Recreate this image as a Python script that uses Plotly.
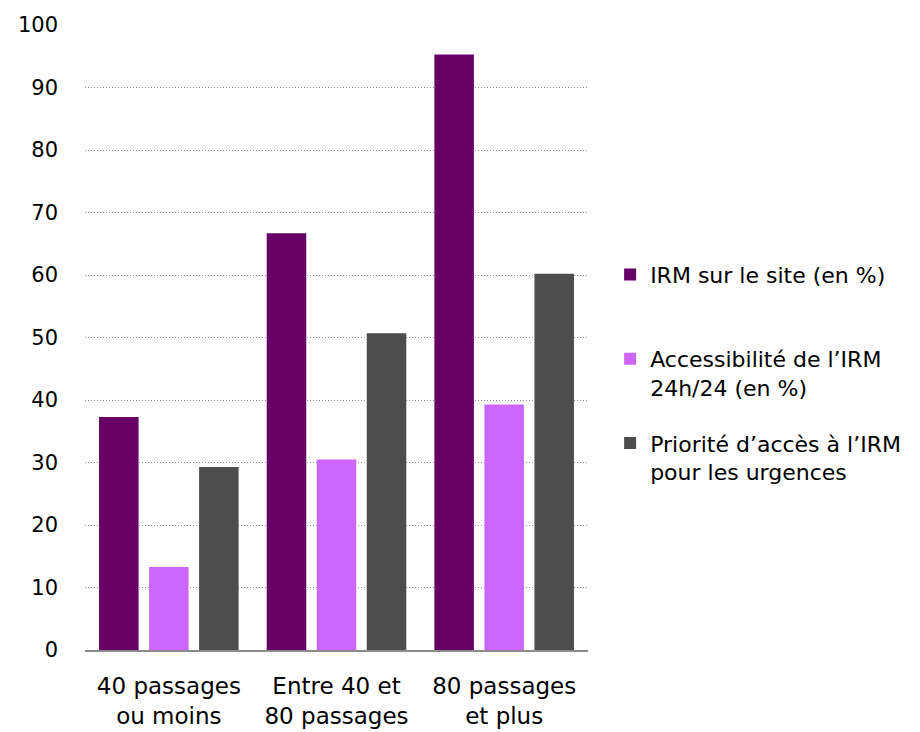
import plotly.graph_objects as go

categories = ["40 passages<br>ou moins", "Entre 40 et<br>80 passages", "80 passages<br>et plus"]
series_names = ["IRM sur le site (en %)<br> ",
                "Accessibilité de l’IRM<br>24h/24 (en %)",
                "Priorité d’accès à l’IRM<br>pour les urgences"]
irm_site = [37.3, 66.7, 95.3]
irm_24h = [13.3, 30.5, 39.3]
priorite = [29.3, 50.7, 60.2]
colors = ["#660066", "#CC66FF", "#4D4D4D"]
y_ticks = [0, 10, 20, 30, 40, 50, 60, 70, 80, 90, 100]

FONT = "DejaVu Sans, sans-serif"

fig = go.Figure()
for i, (name, vals) in enumerate(zip(series_names, [irm_site, irm_24h, priorite])):
    fig.add_trace(go.Bar(
        x=categories, y=vals, name=name,
        marker=dict(color=colors[i], line=dict(width=0)),
        legendgroup=str(i),
    ))

# page body has an 8px offset, so the figure is 912x724 and placed accordingly
fig.update_layout(
    width=912, height=724,
    margin=dict(l=77, r=332, t=17, b=82),
    paper_bgcolor="white", plot_bgcolor="white",
    font=dict(family=FONT, size=22, color="#000000"),
    barmode="group", bargap=0.105, bargroupgap=0.21,
    showlegend=True,
    legend=dict(
        x=1.044, xanchor="left", y=0.634, yanchor="top",
        font=dict(family=FONT, size=22, color="#000000"),
        tracegroupgap=24, itemclick=False, valign="top",
        bgcolor="rgba(0,0,0,0)",
    ),
    xaxis=dict(
        showgrid=False, showline=True, linecolor="#8C8C8C", linewidth=2,
        ticks="", tickfont=dict(family=FONT, size=23),
        ticklabelstandoff=14, automargin=False,
    ),
    yaxis=dict(
        range=[0, 100], tickvals=y_ticks,
        showgrid=True, gridcolor="#8C8C8C", gridwidth=1, griddash="1px,2px",
        zeroline=False, showline=False, ticks="",
        tickfont=dict(family=FONT, size=21),
        ticklabelstandoff=26, automargin=False,
    ),
)

fig.write_html("out.html")
